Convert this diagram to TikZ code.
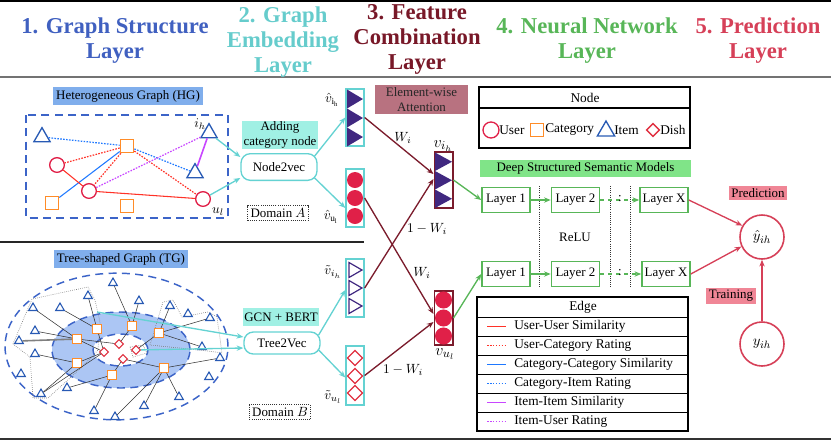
\documentclass[tikz,border=0pt]{standalone}
\usepackage{fontspec}
\setmainfont{Liberation Serif}
\usetikzlibrary{shapes.geometric,arrows.meta,calc}
\definecolor{tblue}{RGB}{64,96,192}
\definecolor{tcyan}{RGB}{102,204,204}
\definecolor{tdred}{RGB}{120,24,40}
\definecolor{tgreen}{RGB}{88,182,88}
\definecolor{tred}{RGB}{214,64,88}
\definecolor{labfill}{RGB}{128,174,236}
\definecolor{cyanfill}{RGB}{160,240,228}
\definecolor{attfill}{RGB}{184,114,128}
\definecolor{dssmfill}{RGB}{128,228,136}
\definecolor{pinkfill}{RGB}{240,134,150}
\definecolor{userred}{RGB}{224,32,72}
\definecolor{catorange}{RGB}{255,140,40}
\definecolor{itemblue}{RGB}{40,90,180}
\definecolor{dishred}{RGB}{224,48,64}
\definecolor{edgered}{RGB}{255,50,40}
\definecolor{edgeblue}{RGB}{30,120,255}
\definecolor{edgepurple}{RGB}{200,70,255}
\definecolor{vpurple}{RGB}{64,40,128}
\definecolor{veccyan}{RGB}{100,210,210}
\definecolor{arrred}{RGB}{123,28,44}
\definecolor{tgfill}{RGB}{172,198,244}
\definecolor{dashblue}{RGB}{60,100,200}
\tikzset{
  ttl/.style={align=center, inner sep=0pt, font=\fontsize{17}{18.75}\selectfont\bfseries},
  txt/.style={font=\fontsize{9.7}{11}\selectfont, inner sep=0pt},
  lgtxt/.style={font=\fontsize{10}{11}\selectfont, inner sep=0pt},
  mth/.style={font=\fontsize{10}{12}\selectfont, inner sep=0pt},
  lab/.style={txt, fill=labfill, inner sep=2.5pt},
  cylab/.style={txt, fill=cyanfill, align=center, minimum width=57pt},
  pinklab/.style={txt, fill=pinkfill, inner sep=2pt},
  usr/.style={circle, draw=userred, line width=1pt, minimum size=11pt, inner sep=0pt},
  cat/.style={rectangle, draw=catorange, line width=1pt, minimum size=10pt, inner sep=0pt},
  itm/.style={regular polygon, regular polygon sides=3, draw=itemblue, line width=1pt, minimum size=14pt, inner sep=0pt},
  dsh/.style={diamond, draw=dishred, line width=1pt, minimum size=10pt, inner sep=0pt},
  tcat/.style={rectangle, draw=catorange, fill=white, line width=0.9pt, minimum size=6.5pt, inner sep=0pt},
  titm/.style={regular polygon, regular polygon sides=3, draw=itemblue, fill=white, line width=0.8pt, minimum size=7.5pt, inner sep=0pt},
  tdsh/.style={diamond, draw=dishred, fill=white, line width=0.8pt, minimum size=7pt, inner sep=0pt},
  tedge/.style={black!80, line width=0.4pt},
  tdot/.style={black!50, densely dotted, line width=0.5pt},
  uu/.style={edgered, line width=0.8pt},
  uc/.style={edgered, dash pattern=on 1.2pt off 1pt, line width=0.9pt},
  cc/.style={edgeblue, line width=0.8pt},
  ci/.style={edgeblue, dash pattern=on 1.2pt off 1pt, line width=0.9pt},
  ii/.style={edgepurple, line width=1.2pt},
  iu/.style={edgepurple, dash pattern=on 1.2pt off 1pt, line width=0.9pt},
  bdash/.style={draw=dashblue, line width=1.1pt, dash pattern=on 6pt off 4pt},
  rbox/.style={txt, draw=veccyan, line width=1pt, rounded corners=7pt, minimum width=57pt},
  dombox/.style={txt, draw=black!80, densely dotted, line width=0.6pt, inner sep=2pt},
  vecc/.style={draw=veccyan, line width=1pt, minimum width=13.5pt, inner sep=0pt},
  vecr/.style={draw=arrred, line width=1pt, minimum width=14pt, inner sep=0pt},
  cyarr/.style={draw=veccyan, line width=1pt, -{Stealth[length=5pt,width=4pt]}},
  rdarr/.style={draw=arrred, line width=1pt, -{Stealth[length=5pt,width=4pt]}},
  garr/.style={draw=tgreen, line width=1pt, -{Stealth[length=5pt,width=4pt]}},
  gdarr/.style={draw=tgreen, line width=1pt, dashed, -{Stealth[length=5pt,width=4pt]}},
  parr/.style={draw=tred, line width=1pt, -{Stealth[length=5pt,width=4pt]}},
  layerbox/.style={txt, draw=tgreen, line width=1.2pt, minimum width=36pt, minimum height=18.75pt},
  predc/.style={circle, draw=tred, line width=1.2pt, minimum size=33pt, inner sep=0pt, font=\fontsize{11}{13}\selectfont},
}
\begin{document}
\begin{tikzpicture}[x=0.75pt,y=-0.75pt]
\useasboundingbox (0,0) rectangle (831,440);
% ---------- frame lines ----------
\draw[line width=0.8pt] (0,1) -- (831,1);
\draw[line width=1.5pt, black!55] (0,77) -- (831,77);
\draw[line width=1.5pt, black!80] (0,438.5) -- (831,438.5);
\draw[line width=1.2pt, black!85] (0,242) -- (364,242);
% ---------- titles ----------
\node[ttl,text=tblue] (ttl1) at (115,41) {1. Graph Structure\\Layer};
\node[ttl,text=tcyan] (ttl2) at (283,42) {2. Graph\\Embedding\\Layer};
\node[ttl,text=tdred] (ttl3) at (417,39) {3. Feature\\Combination\\Layer};
\node[ttl,text=tgreen] (ttl4) at (587,41) {4. Neural Network\\Layer};
\node[ttl,text=tred] (ttl5) at (758,41) {5. Prediction\\Layer};
% ---------- Heterogeneous graph ----------
\node[lab] (hglab) at (128,96) {Heterogeneous Graph (HG)};
\draw[bdash] (26,115) rectangle (228,218);
\node[usr] (c1) at (57,165) {};
\node[usr] (c2) at (89,191) {};
\node[usr] (c3) at (203,199) {};
\node[cat] (s1) at (127,146) {};
\node[cat] (s2) at (52,203) {};
\node[cat] (s3) at (127,206) {};
\node[itm] (h1) at (42,137) {};
\node[itm] (h2) at (195,173) {};
\node[itm] (h3) at (209,133) {};
\node[mth] (ihl) at (200,124) {$i_h$};
\node[mth] (ull) at (218,212) {$u_l$};
\draw[ci] (h1) -- (s1);
\draw[uc] (s1) -- (c1);
\draw[uc] (s1) -- (c2);
\draw[uc] (s1) -- (c3);
\draw[ci] (s1) -- (h2);
\draw[cc] (s2) -- (s1);
\draw[uu] (c1) -- (c2);
\draw[uu] (c2) -- (c3);
\draw[iu] (c2) -- (h3);
\draw[ii] (h3) -- (h2);
% ---------- Node2vec branch ----------
\node[cylab, minimum height=21pt] (addcat) at (280,135) {Adding\\category node};
\node[rbox, minimum height=20pt] (n2v) at (279,167) {Node2vec};
\node[dombox] (doma) at (278,213) {Domain $A$};
\draw[cyarr] (h3) -- ($(n2v.west)+(0,-10)$);
\draw[cyarr] (c3) -- ($(n2v.west)+(0,11)$);
\node[vecc, minimum height=42.75pt] (vhi) at (355,117.5) {};
\node[vecc, minimum height=43.5pt] (vhu) at (355,198) {};
\foreach \k in {0,1,2} {
  \fill[vpurple] (347,89.5+19*\k) -- (363,99+19*\k) -- (347,108.5+19*\k) -- cycle;
  \fill[userred] (355,180+18*\k) circle (6pt);
}
\node[mth] (vhil) at (332,100) {$\hat{v}_{\mathrm{i_h}}$};
\node[mth] (vhul) at (331,217) {$\hat{v}_{\mathrm{u_l}}$};
\draw[cyarr] ($(n2v.east)+(-3,-11)$) -- (vhi.west);
\draw[cyarr] ($(n2v.east)+(-3,11)$) -- ($(vhu.west)+(0,10)$);
% ---------- Tree-shaped graph ----------
\node[lab] (tglab) at (121,259) {Tree-shaped Graph (TG)};
\draw[bdash] (116.5,346.5) ellipse [x radius=83.6pt, y radius=55pt];
\fill[tgfill] (121,350) ellipse [x radius=51.75pt, y radius=28.5pt];
\draw[bdash] (121,350) ellipse [x radius=51.75pt, y radius=28.5pt];
\fill[white] (120.5,350) ellipse [x radius=20.6pt, y radius=12pt];
\draw[bdash] (120.5,350) ellipse [x radius=20.6pt, y radius=12pt];
% dotted groups
\draw[tdot] (13,344) -- (32,299) -- (88,287) -- (95,300) -- (100,322) -- (98,350) -- (82,367) -- (48,398) -- (33,398) -- (30,357) -- cycle;
\draw[tdot] (150,345) -- (163,302) -- (173,300) -- (182,317) -- (208,312) -- (217,317) -- (222,353) -- (208,351) -- cycle;
\draw[tdot] (130,347) -- (143,345) -- (147,353) -- (133,357) -- cycle;
% category squares
\node[tcat] (q1) at (97,329) {};
\node[tcat] (q2) at (132,326) {};
\node[tcat] (q3) at (159,333) {};
\node[tcat] (q4) at (77,339) {};
\node[tcat] (q5) at (77,363) {};
\node[tcat] (q6) at (112,375) {};
\node[tcat] (q7) at (164,368) {};
% dishes
\node[tdsh] (d1) at (119,344) {};
\node[tdsh] (d2) at (104,352) {};
\node[tdsh] (d3) at (136,350) {};
\node[tdsh] (d4) at (123,359) {};
% items
\node[titm] (a1) at (113,283) {};
\node[titm] (a2) at (88,296) {};
\node[titm] (a3) at (139,301) {};
\node[titm] (a4) at (33,308) {};
\node[titm] (a5) at (60,308) {};
\node[titm] (a6) at (170,306) {};
\node[titm] (a7) at (188,314) {};
\node[titm] (a8) at (210,318) {};
\node[titm] (a9) at (35,331) {};
\node[titm] (a10) at (19,341) {};
\node[titm] (a11) at (202,347) {};
\node[titm] (a12) at (35,354) {};
\node[titm] (a13) at (220,358) {};
\node[titm] (a14) at (21,374) {};
\node[titm] (a15) at (209,377) {};
\node[titm] (a16) at (67,388) {};
\node[titm] (a17) at (41,394) {};
\node[titm] (a18) at (179,397) {};
\node[titm] (a19) at (144,406) {};
\node[titm] (a20) at (94,411) {};
\node[titm] (a21) at (115,417) {};
% tree edges
\draw[tedge] (a1) -- (q2);
\draw[tedge] (a3) -- (q2);
\draw[tedge] (a2) -- (q1);
\draw[tedge] (a5) -- (q1);
\draw[tedge] (a4) -- (q4);
\draw[tedge] (a9) -- (q4);
\draw[black!50, line width=1.2pt] (a10) -- (q4);
\draw[tedge] (a12) -- (q5);
\draw[tedge] (a17) -- (q5);
\draw[tedge] (a16) -- (q6);
\draw[tedge] (a20) -- (q6);
\draw[tedge] (a6) -- (q3);
\draw[tedge] (a8) -- (q3);
\draw[tedge] (a11) -- (q3);
\draw[tedge] (a13) -- (q7);
\draw[tedge] (a18) -- (q7);
\draw[tedge] (a19) -- (q7);
\draw[tedge] (a21) -- (q7);
\draw[tedge] (q4) -- (d1);
\draw[tedge] (q4) -- (d2);
\draw[tedge] (q2) -- (d1);
\draw[tedge] (q1) -- (d2);
\draw[tedge] (q5) -- (d2);
\draw[tedge] (q3) -- (d3);
\draw[tedge] (q6) -- (d4);
\draw[tedge] (d4) -- (q7);
\draw[tedge] (a17) -- (d2);
% ---------- Tree2Vec branch ----------
\coordinate (tga) at (97,312);
\node[cylab, minimum height=13.5pt] (gcn) at (281,317) {GCN + BERT};
\node[rbox, minimum height=16.5pt] (t2v) at (282,343) {Tree2Vec};
\node[dombox] (domb) at (280,412) {Domain $B$};
\draw[cyarr] (tga) -- ($(t2v.west)+(0,-6)$);
\draw[cyarr] (d3) -- ($(t2v.west)+(0,5)$);
\node[vecc, minimum height=43.5pt] (tvi) at (355,288) {};
\node[vecc, minimum height=44.25pt] (tvu) at (355,375.5) {};
\foreach \c in {270,288,306} {
  \draw[vpurple, line width=0.9pt] (349,\c-7.5) -- (362,\c) -- (349,\c+7.5) -- cycle;
}
\foreach \c in {358,376,393} {
  \draw[dishred, line width=0.9pt] (355,\c-7.5) -- (362.5,\c) -- (355,\c+7.5) -- (347.5,\c) -- cycle;
}
\node[mth] (tvil) at (333,272) {$\tilde{v}_{i_h}$};
\node[mth] (tvul) at (333,397) {$\tilde{v}_{u_l}$};
\draw[cyarr] ($(t2v.east)+(-2,-8)$) -- ($(tvi.west)+(0,2)$);
\draw[cyarr] ($(t2v.east)+(-2,7)$) -- ($(tvu.west)+(0,2)$);
% ---------- Feature combination ----------
\node[txt, fill=attfill, align=center, minimum width=69.75pt, minimum height=21.75pt, text=black!85] (att) at (421.5,99.5) {Element-wise\\Attention};
\node[vecr, minimum height=42pt] (vi) at (443.5,180) {};
\node[vecr, minimum height=40.5pt] (vu) at (443.5,318) {};
\foreach \k in {0,1,2} {
  \fill[vpurple] (435,152.5+18.5*\k) -- (452,161.75+18.5*\k) -- (435,171+18.5*\k) -- cycle;
  \fill[userred] (443.5,300+18*\k) circle (6.4pt);
}
\node[font=\fontsize{13}{15}\selectfont, inner sep=0pt] (vil) at (443,146) {$v_{i_h}$};
\node[font=\fontsize{13}{15}\selectfont, inner sep=0pt] (vul) at (445,354) {$v_{u_l}$};
\draw[rdarr] (vhi.east) -- ($(vi.west)+(0,-6)$);
\draw[rdarr] (tvi.east) -- ($(vi.west)+(0,-1)$);
\draw[rdarr] (vhu.east) -- ($(vu.west)+(0,-4)$);
\draw[rdarr] (tvu.east) -- ($(vu.west)+(0,4)$);
\node[mth] (w1) at (403,138) {$W_i$};
\node[mth] (w2) at (427,229) {$1-W_i$};
\node[mth] (w3) at (422,273) {$W_i$};
\node[mth] (w4) at (403,370) {$1-W_i$};
% ---------- Node legend ----------
\draw[line width=0.8pt] (479,87) rectangle (690,148);
\draw[line width=0.8pt] (479,108) -- (690,108);
\node[lgtxt] (nodeh) at (585,98) {Node};
\node[usr, minimum size=12pt] (lgu) at (491,130) {};
\node[lgtxt, anchor=west] (lgut) at (499,130) {User};
\node[cat] (lgc) at (537,130) {};
\node[lgtxt, anchor=west] (lgct) at (545,130) {Category};
\node[itm, minimum size=15pt] (lgi) at (606,131) {};
\node[lgtxt, anchor=west] (lgit) at (614,130) {Item};
\node[dsh] (lgd) at (653,130) {};
\node[lgtxt, anchor=west] (lgdt) at (660,130) {Dish};
% ---------- Neural network ----------
\node[txt, fill=dssmfill, minimum width=158.25pt, minimum height=12.75pt] (dssm) at (585.5,168.5) {Deep Structured Semantic Models};
\node[layerbox] (l11) at (506,200) {Layer 1};
\node[layerbox] (l12) at (575.5,200) {Layer 2};
\node[layerbox] (l1x) at (664,200) {Layer X};
\node[layerbox] (l21) at (506,274) {Layer 1};
\node[layerbox] (l22) at (575.5,274) {Layer 2};
\node[layerbox] (l2x) at (666,274) {Layer X};
\foreach \xx in {539,610,630} { \draw[black!80, densely dotted, line width=0.6pt] (\xx,186) -- (\xx,288); }
\draw[garr] (vi.east) -- (l11.west);
\draw[garr] (vu.east) -- (l21.west);
\draw[garr] (l11) -- (l12);
\draw[garr] (l21) -- (l22);
\draw[gdarr] (l12) -- (l1x);
\draw[gdarr] (l22) -- (l2x);
\node[txt] (col1) at (620,199) {:};
\node[txt] (col2) at (620,273) {:};
\node[txt] (relu) at (575,237) {ReLU};
% ---------- Edge legend ----------
\draw[line width=0.8pt] (477,297) rectangle (688,431);
\foreach \yy in {317,336,355,374,393,412} { \draw[line width=0.6pt] (477,\yy) -- (688,\yy); }
\node[lgtxt] (edgeh) at (583,307) {Edge};
\draw[uu] (487,326.5) -- (506,326.5);
\node[lgtxt, anchor=west] (e1) at (514,326.5) {User-User Similarity};
\draw[uc] (487,345.5) -- (506,345.5);
\node[lgtxt, anchor=west] (e2) at (514,345.5) {User-Category Rating};
\draw[cc] (487,364.5) -- (506,364.5);
\node[lgtxt, anchor=west] (e3) at (514,364.5) {Category-Category Similarity};
\draw[ci] (487,383.5) -- (506,383.5);
\node[lgtxt, anchor=west] (e4) at (514,383.5) {Category-Item Rating};
\draw[ii] (487,402.5) -- (506,402.5);
\node[lgtxt, anchor=west] (e5) at (514,402.5) {Item-Item Similarity};
\draw[iu] (487,421.5) -- (506,421.5);
\node[lgtxt, anchor=west] (e6) at (514,421.5) {Item-User Rating};
% ---------- Prediction ----------
\node[predc] (yh) at (762,237) {$\hat{y}_{ih}$};
\node[predc] (yy) at (762,344) {$y_{ih}$};
\node[pinklab] (predl) at (758,193) {Prediction};
\node[pinklab] (trainl) at (731,296) {Training};
\draw[parr] (l1x.east) -- (yh.150);
\draw[parr] (l2x.east) -- (yh.205);
\draw[parr] (yy) -- (yh);
\end{tikzpicture}
\end{document}
